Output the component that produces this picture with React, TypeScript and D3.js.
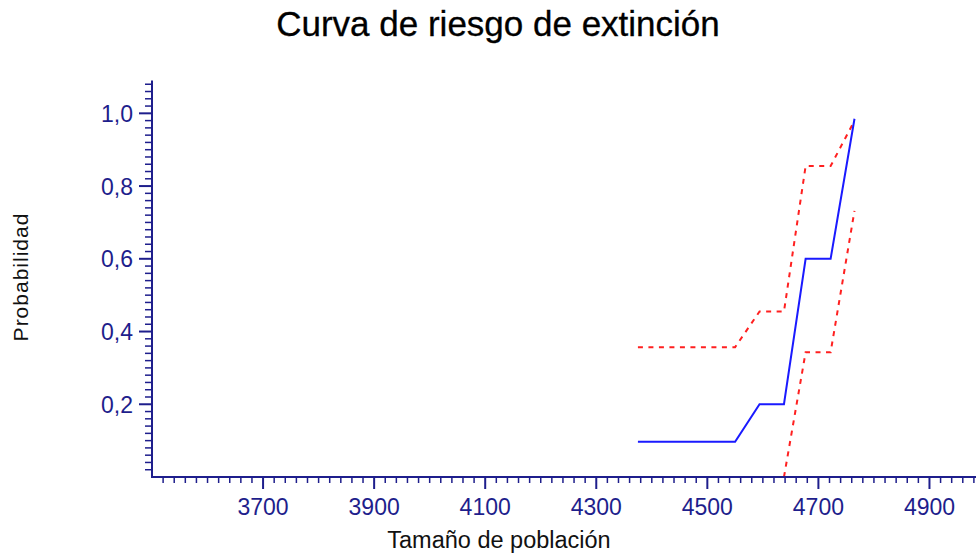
import React from "react";
import * as d3 from "d3";

const TITLE = "Curva de riesgo de extinción";
const X_LABEL = "Tamaño de población";
const Y_LABEL = "Probabilidad";

const sizes = [4375, 4550, 4594, 4638, 4677, 4722, 4765];
const riskMean = [0.097, 0.097, 0.2, 0.2, 0.6, 0.6, 0.985];
const riskUpper = [0.357, 0.357, 0.455, 0.455, 0.855, 0.855, 0.98];
const riskLower: (number | null)[] = [null, null, null, 0, 0.343, 0.343, 0.732];

const xMajorTicks = [3700, 3900, 4100, 4300, 4500, 4700, 4900];
const yMajorTicks = [0.2, 0.4, 0.6, 0.8, 1.0];

const W = 976;
const H = 553;
const AXIS = "#1e1e8c";
const FONT = "'Liberation Sans', Arial, sans-serif";

export default function App() {
  const x = d3.scaleLinear().domain([3500, 5000]).range([152, 985]);
  const y = d3.scaleLinear().domain([0, 1.09]).range([477, 80.6]);

  const xMinor = d3.range(3520, 5000, 20).filter((v) => v % 200 !== 100);
  const yMinor = d3.range(1, 55).map((i) => i * 0.02).filter((v) => Math.abs(v * 5 - Math.round(v * 5)) > 1e-6);

  const mkLine = (vals: (number | null)[]) =>
    d3
      .line<number>()
      .defined((_, i) => vals[i] !== null)
      .x((d) => x(d))
      .y((_, i) => y(vals[i] as number))(sizes) || "";

  const fmt = (v: number) => v.toFixed(1).replace(".", ",");

  return (
    <div style={{ position: "fixed", left: 0, top: 0 }}>
      <svg width={W} height={H} style={{ display: "block", background: "#fff" }}>
        <text x={498} y={36} textAnchor="middle" fontFamily={FONT} fontSize={35} fill="#000" stroke="#000" strokeWidth={0.3}>
          {TITLE}
        </text>

        {/* data */}
        <path d={mkLine(riskUpper)} fill="none" stroke="#ff2020" strokeWidth={2} strokeDasharray="5,5.5" />
        <path d={mkLine(riskLower)} fill="none" stroke="#ff2020" strokeWidth={2} strokeDasharray="5,5.5" />
        <path d={mkLine(riskMean)} fill="none" stroke="#1a1aff" strokeWidth={2} />

        {/* y axis */}
        <line x1={152} x2={152} y1={y(1.09)} y2={478} stroke={AXIS} strokeWidth={2} />
        {yMinor.map((v) => (
          <line key={"ym" + v} x1={145} x2={152} y1={y(v)} y2={y(v)} stroke={AXIS} strokeWidth={1.5} />
        ))}
        {yMajorTicks.map((v) => (
          <g key={"yM" + v}>
            <line x1={139} x2={152} y1={y(v)} y2={y(v)} stroke={AXIS} strokeWidth={2} />
            <text x={133} y={y(v) + 8.5} textAnchor="end" fontFamily={FONT} fontSize={23} fill={AXIS}>
              {fmt(v)}
            </text>
          </g>
        ))}

        {/* x axis */}
        <line x1={151} x2={W} y1={477} y2={477} stroke={AXIS} strokeWidth={2} />
        {xMinor.map((v) => (
          <line key={"xm" + v} x1={x(v)} x2={x(v)} y1={477} y2={483} stroke={AXIS} strokeWidth={1.5} />
        ))}
        {xMajorTicks.map((v) => (
          <g key={"xM" + v}>
            <line x1={x(v)} x2={x(v)} y1={477} y2={489} stroke={AXIS} strokeWidth={2} />
            <text x={x(v)} y={515} textAnchor="middle" fontFamily={FONT} fontSize={23} fill={AXIS}>
              {v}
            </text>
          </g>
        ))}

        <text x={499} y={548} textAnchor="middle" fontFamily={FONT} fontSize={23.5} fill="#111">
          {X_LABEL}
        </text>
        <text
          transform="translate(28,277) rotate(-90)"
          textAnchor="middle"
          fontFamily={FONT}
          fontSize={21}
          letterSpacing={1}
          fill="#111"
        >
          {Y_LABEL}
        </text>
      </svg>
    </div>
  );
}
